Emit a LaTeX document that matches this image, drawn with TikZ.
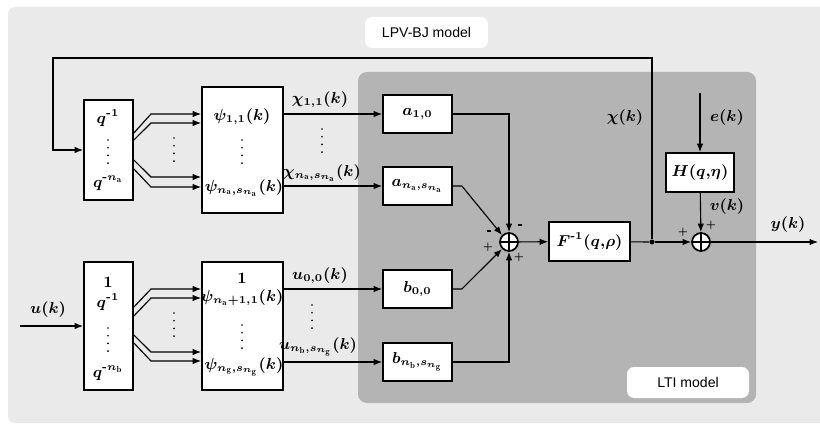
\documentclass[tikz,border=0pt]{standalone}
\usepackage{fontspec}
\setsansfont{Liberation Sans}
\usepackage{amsmath}
\usetikzlibrary{arrows.meta}
\definecolor{outergray}{HTML}{EAEAEA}
\definecolor{ltigray}{HTML}{B4B4B4}
\begin{document}
\begin{tikzpicture}[x=0.02cm, y=-0.02cm,
	blk/.style={draw, fill=white, line width=1pt, inner sep=0pt, font=\small\boldmath},
	lab/.style={font=\small\boldmath, inner sep=1pt},
	sgn/.style={font=\tiny\bfseries, inner sep=0pt},
	sig/.style={line width=0.65pt, -{Latex[length=1.7mm,width=1.3mm]}},
	wire/.style={line width=0.65pt},
	vdot/.style={line width=1.1pt, line cap=round, dash pattern=on 0pt off 4.4pt},
	sumnode/.style={draw, circle, fill=white, line width=1pt, minimum size=0.36cm, inner sep=0pt},
	tag/.style={fill=white, rounded corners=4pt, font=\sffamily\footnotesize, inner sep=0pt}]

		\useasboundingbox (0,0) rectangle (820,425);
		\fill[outergray, rounded corners=4pt] (8,7) rectangle (840,423);
		\fill[ltigray, rounded corners=5pt] (358,72) rectangle (756,403);

		\node[tag, minimum width=2.46cm, minimum height=0.62cm] (lpv) at (426.5,32.5) {LPV-BJ model};
		\node[tag, minimum width=2.44cm, minimum height=0.62cm] (lti) at (688,382.5) {LTI model};

		\node[blk, minimum width=0.98cm, minimum height=2cm] (qa) at (108.5,150) {};
		\node[lab] (qa1) at (108,118) {$q^{\text{\bfseries -}1}$};
		\node[lab] (qa2) at (108,183) {$q^{\text{\bfseries -}n_\mathrm{a}}$};
		\draw[vdot] (108,140) -- (108,164);

		\node[blk, minimum width=1.62cm, minimum height=2.52cm] (psia) at (242.5,150) {};
		\node[lab] (psia1) at (242,117) {$\psi_{1{,}1}(k)$};
		\node[lab] (psia2) at (244,188) {$\psi_{n_\mathrm{a}{,}s_{n_\mathrm{a}}}(k)$};
		\draw[vdot] (242,140) -- (242,164);
		\draw[vdot] (174,138) -- (174,162);

		\node[blk, minimum width=0.98cm, minimum height=2.56cm] (qb) at (108.5,326) {};
		\node[lab] (qb1) at (108,282) {$1$};
		\node[lab] (qb2) at (108,302) {$q^{\text{\bfseries -}1}$};
		\node[lab] (qb3) at (108,373) {$q^{\text{\bfseries -}n_\mathrm{b}}$};
		\draw[vdot] (108,328) -- (108,352);

		\node[blk, minimum width=1.62cm, minimum height=2.56cm] (psib) at (242.5,326) {};
		\node[lab] (psib1) at (242,278) {$1$};
		\node[lab] (psib2) at (242,298) {$\psi_{n_\mathrm{a}+1{,}1}(k)$};
		\node[lab] (psib3) at (244,367) {$\psi_{n_\mathrm{g}{,}s_{n_\mathrm{g}}}(k)$};
		\draw[vdot] (242,325) -- (242,349);
		\draw[vdot] (174,313) -- (174,337);

		\node[blk, minimum width=1.38cm, minimum height=0.76cm] (a1) at (417.5,114) {$a_{1{,}0}$};
		\node[blk, minimum width=1.38cm, minimum height=0.76cm] (an) at (417.5,186) {$a_{n_\mathrm{a}{,}s_{n_\mathrm{a}}}$};
		\node[blk, minimum width=1.38cm, minimum height=0.76cm] (b0) at (417.5,289) {$b_{0{,}0}$};
		\node[blk, minimum width=1.38cm, minimum height=0.76cm] (bn) at (417.5,362) {$b_{n_\mathrm{b}{,}s_{n_\mathrm{g}}}$};

		\node[sumnode] (s1) at (509,242) {};
		\draw[wire] (s1.north) -- (s1.south) (s1.west) -- (s1.east);
		\node[blk, minimum width=1.62cm, minimum height=0.78cm] (F) at (589.5,241.5) {$F^{\text{\bfseries -}1}(q{,}\rho)$};
		\node[circle, fill, inner sep=0pt, minimum size=1mm] (J) at (652,242) {};
		\node[sumnode] (s2) at (701,242) {};
		\draw[wire] (s2.north) -- (s2.south) (s2.west) -- (s2.east);
		\node[blk, minimum width=1.36cm, minimum height=0.78cm] (H) at (700,172.5) {$H(q{,}\eta)$};

		\coordinate (uin) at (20,326);
		\coordinate (ein) at (700,93);
		\coordinate (yout) at (818,242);

		\foreach \s/\e in {133/114, 140/123, 160/177, 169/187}
			\draw[sig] (qa.east |- 0,\s) -- (151,\e) -- (psia.west |- 0,\e);
		\foreach \s/\e in {307/289, 316/298, 335/352, 343/361}
			\draw[sig] (qb.east |- 0,\s) -- (151,\e) -- (psib.west |- 0,\e);

		\draw[sig] (uin) -- (qb.west);
		\draw[sig] (psia.east |- a1) -- (a1.west);
		\draw[sig] (psia.east |- an) -- (an.west);
		\draw[sig] (psib.east |- b0) -- (b0.west);
		\draw[sig] (psib.east |- bn) -- (bn.west);
		\draw[vdot] (322,129) -- (322,153);
		\draw[vdot] (312,305) -- (312,329);

		\draw[sig] (a1.east) -| (s1.north);
		\draw[sig] (an.east) -- ++(9,0) -- (s1.north west);
		\draw[sig] (b0.east) -- ++(9,0) -- (s1.south west);
		\draw[sig] (bn.east) -| (s1.south);
		\draw[sig] (s1) -- (F);
		\draw[wire] (F) -- (J);
		\draw[sig] (J) -- (s2);
		\draw[sig] (s2) -- (yout);
		\draw[sig] (ein) -- (H);
		\draw[sig] (H) -- (s2);
		\draw[sig] (J) -- ++(0,-184) -| (53,150) -- (qa.west);

		\node[lab] (chi11) at (320,100) {$\chi_{1{,}1}(k)$};
		\node[lab] (chin) at (322,173) {$\chi_{n_\mathrm{a}{,}s_{n_\mathrm{a}}}(k)$};
		\node[lab] (u00) at (320,276) {$u_{0{,}0}(k)$};
		\node[lab] (unb) at (318,347) {$u_{n_\mathrm{b}{,}s_{n_\mathrm{g}}}(k)$};
		\node[lab] (uk) at (48,310) {$u(k)$};
		\node[lab] (chik) at (625,118) {$\chi(k)$};
		\node[lab] (ek) at (727,118) {$e(k)$};
		\node[lab] (vk) at (727,207) {$v(k)$};
		\node[lab] (yk) at (788,225) {$y(k)$};

		\node[sgn] (m1) at (520,225) {\rule{2.8pt}{0.9pt}};
		\node[sgn] (m2) at (489,231) {\rule{2.8pt}{0.9pt}};
		\node[sgn] (p1) at (488,247) {+};
		\node[sgn] (p2) at (519,257) {+};
		\node[sgn] (p3) at (683,232) {+};
		\node[sgn] (p4) at (711,225) {+};

	\end{tikzpicture}
\end{document}
